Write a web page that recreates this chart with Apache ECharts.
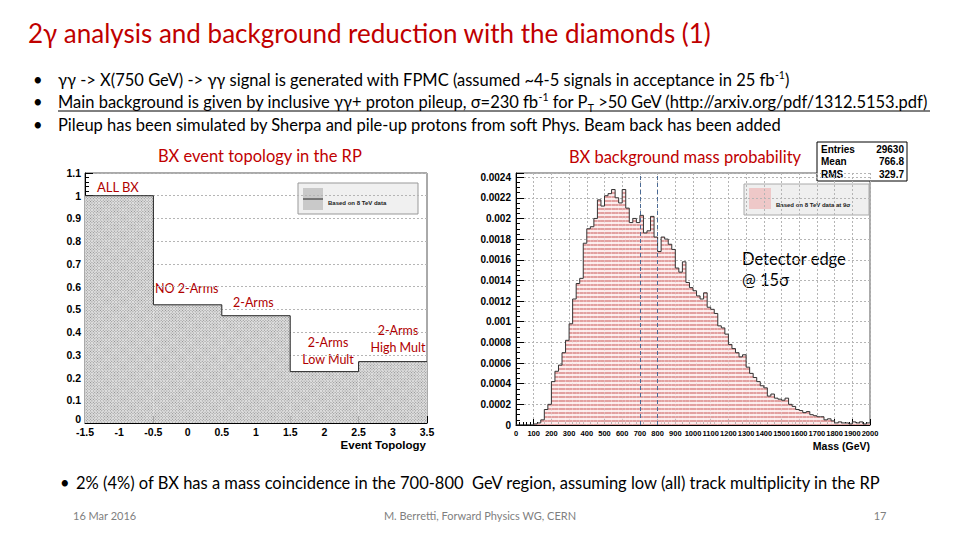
<!DOCTYPE html>
<html><head><meta charset="utf-8">
<script src="https://cdn.jsdelivr.net/npm/echarts@6/dist/echarts.min.js"></script>
<style>html,body{margin:0;padding:0;background:#fff}#c{width:960px;height:540px}</style>
</head><body><div id="c"></div>
<script>
// ---- data ----
const topoEdges = [-1.5, -0.5, 0.5, 1.5, 2.5, 3.5];
const topoNames = ['ALL BX', 'NO 2-Arms', '2-Arms', '2-Arms Low Mult', '2-Arms High Mult'];
const topoValues = [1.0, 0.52, 0.472, 0.226, 0.27];

const massMin = 0, massMax = 2000, massBinWidth = 20;
const massValues = [
  0, 0, 0, 0, 0, 0.00001, 0.00002, 0.00005, 0.00015, 0.0002,
  0.00042, 0.00052, 0.00058, 0.0007, 0.00082, 0.00098, 0.00122, 0.00137, 0.00142, 0.00176,
  0.0019, 0.00192, 0.002, 0.00218, 0.00212, 0.00222, 0.00224, 0.00228, 0.0022, 0.00215,
  0.00228, 0.0021, 0.00196, 0.002, 0.00196, 0.00203, 0.00186, 0.00188, 0.00202, 0.00182,
  0.00168, 0.00182, 0.0018, 0.00175, 0.0017, 0.00152, 0.00148, 0.00158, 0.00138, 0.00133,
  0.0013, 0.00125, 0.00122, 0.00128, 0.00114, 0.00112, 0.00108, 0.00096, 0.00094, 0.00088,
  0.00078, 0.00074, 0.0007, 0.00066, 0.00068, 0.00056, 0.0005, 0.00046, 0.00042, 0.00038,
  0.00036, 0.00028, 0.0003, 0.00026, 0.00025, 0.00024, 0.00026, 0.0002, 0.00018, 0.00015,
  0.00014, 0.00012, 0.00013, 0.0001, 0.00009, 0.00008, 0.00008, 0.00005, 0.00006, 0.00004,
  0.00002, 0.00003, 0.00002, 0.00002, 0.00001, 0.00003, 0.00002, 0.00003, 0.00001, 0.00002
];
const massWindow = [700, 800];
const statsLabels = ['Entries', 'Mean', 'RMS'];
const statsValues = ['29630', '766.8', '329.7'];

// ---- derived ----
const massBins = massValues.map((v, i) => String(massMin + i * massBinWidth));
const massStep = massValues.map((v, i) => [massMin + i * massBinWidth, v]).concat([[massMax, massValues[massValues.length - 1]]]);
const topoStep = topoEdges.map((e, i) => [e, topoValues[Math.min(i, topoValues.length - 1)]]);

const rootFont = "'Liberation Sans', Arial, sans-serif";
const slideFont = "Lato, 'Open Sans', sans-serif";
const red = '#c00000';
const bodyFont = '16.5px ' + slideFont;

function txt(x, y, text, font, fill, align, extra) {
  return Object.assign({
    type: 'text', x: x, y: y, silent: true,
    style: { text: text, font: font, fill: fill || '#000', align: align || 'left', verticalAlign: 'middle',
             textAlign: align || 'left', textVerticalAlign: 'middle' }
  }, extra || {});
}

const richStyles = {
  n: { font: bodyFont, lineHeight: 22, fill: '#000', color: '#000', verticalAlign: 'middle' },
  sup: { font: '10.5px ' + slideFont, lineHeight: 10, fill: '#000', color: '#000', verticalAlign: 'top' },
  sub: { font: '10.5px ' + slideFont, lineHeight: 10, fill: '#000', color: '#000', verticalAlign: 'bottom' }
};
function richTxt(x, y, text) {
  return { type: 'text', x: x, y: y, silent: true,
    style: { text: text, rich: richStyles, font: bodyFont, fill: '#000', verticalAlign: 'middle', textVerticalAlign: 'middle' } };
}

const graphics = [
  txt(28, 33, '2\u03b3 analysis and background reduction with the diamonds (1)', '26px ' + slideFont, red),
  txt(33, 80, '\u2022', bodyFont, '#000'),
  txt(33, 102, '\u2022', bodyFont, '#000'),
  txt(33, 125, '\u2022', bodyFont, '#000'),
  richTxt(58, 80, '{n|\u03b3\u03b3 -> X(750 GeV) -> \u03b3\u03b3 signal is generated with FPMC (assumed ~4-5 signals in acceptance in 25 fb}{sup|-1}{n|)}'),
  richTxt(58, 102, '{n|Main background is given by inclusive \u03b3\u03b3+ proton pileup, \u03c3=230 fb}{sup|-1}{n| for P}{sub|T}{n| >50 GeV (http://arxiv.org/pdf/1312.5153.pdf)}'),
  { type: 'line', silent: true, shape: { x1: 58, y1: 111, x2: 930, y2: 111 }, style: { stroke: '#000', lineWidth: 1 } },
  richTxt(58, 125, '{n|Pileup has been simulated by Sherpa and pile-up protons from soft Phys. Beam back has been added}'),
  txt(158, 156, 'BX event topology in the RP', bodyFont, red),
  txt(569, 157, 'BX background mass probability', bodyFont, red),
  // left legend
  { type: 'rect', silent: true, shape: { x: 298, y: 183, width: 120, height: 31 }, style: { fill: '#f0f0f0', stroke: '#999', lineWidth: 1 } },
  { type: 'rect', silent: true, shape: { x: 303, y: 188, width: 20, height: 22 }, style: { fill: '#c9c9c9' } },
  { type: 'line', silent: true, shape: { x1: 303, y1: 199, x2: 323, y2: 199 }, style: { stroke: '#222', lineWidth: 1 } },
  txt(328, 203, 'Based on 8 TeV data', 'bold 6px ' + rootFont, '#222'),
  // right legend
  { type: 'rect', silent: true, shape: { x: 744, y: 184, width: 125, height: 31 }, style: { fill: '#efefef', stroke: '#aaa', lineWidth: 1 } },
  { type: 'rect', silent: true, shape: { x: 749, y: 188, width: 22, height: 21 }, style: { fill: '#eec8c8' } },
  txt(776, 205, 'Based on 8 TeV data at 9\u03c3', 'bold 6px ' + rootFont, '#222'),
  // stats box
  { type: 'rect', silent: true, shape: { x: 817, y: 142, width: 90, height: 39 }, style: { fill: '#fff', stroke: '#000', lineWidth: 1 } },
  // annotations left
  txt(97, 187, 'ALL BX', '13px ' + slideFont, '#b00000'),
  txt(155, 288, 'NO 2-Arms', '12.5px ' + slideFont, '#b00000'),
  txt(233, 302, '2-Arms', '12.5px ' + slideFont, '#b00000'),
  txt(328, 342, '2-Arms', '12.5px ' + slideFont, '#b00000', 'center'),
  txt(328, 359, 'Low Mult', '12.5px ' + slideFont, '#b00000', 'center'),
  txt(398, 330, '2-Arms', '12.5px ' + slideFont, '#b00000', 'center'),
  txt(398, 347, 'High Mult', '12.5px ' + slideFont, '#b00000', 'center'),
  txt(742, 259, 'Detector edge', bodyFont, '#000'),
  txt(742, 280, '@ 15\u03c3', bodyFont, '#000'),
  txt(426, 445, 'Event Topology', 'bold 11.5px ' + rootFont, '#000', 'right'),
  txt(870, 446, 'Mass (GeV)', 'bold 10.5px ' + rootFont, '#000', 'right'),
  // bottom bullet and footer
  txt(60, 483, '\u2022', bodyFont, '#000'),
  txt(76, 483, '2% (4%) of BX has a mass coincidence in the 700-800  GeV region, assuming low (all) track multiplicity in the RP', bodyFont, '#000'),
  txt(73, 515, '16 Mar 2016', '11px ' + slideFont, '#7f7f7f'),
  txt(480, 515, 'M. Berretti, Forward Physics WG, CERN', '11px ' + slideFont, '#7f7f7f', 'center'),
  txt(880, 515, '17', '11px ' + slideFont, '#7f7f7f', 'center')
];
statsLabels.forEach((l, i) => {
  graphics.push(txt(821, 149 + i * 12.5, l, 'bold 10px ' + rootFont, '#000'));
  graphics.push(txt(904, 149 + i * 12.5, statsValues[i], 'bold 10px ' + rootFont, '#000', 'right'));
});

const axisLbl = { color: '#000', fontFamily: rootFont, fontWeight: 'bold', fontSize: 10.5 };
const dotted = { show: true, lineStyle: { color: '#b5b5b5', type: [2, 2], width: 1 } };

const option = {
  animation: false,
  backgroundColor: '#fff',
  grid: [
    { left: 85, right: 533, top: 173, bottom: 117, show: true, borderColor: '#555', borderWidth: 1, backgroundColor: 'transparent' },
    { left: 516, right: 90, top: 173, bottom: 115, show: true, borderColor: '#555', borderWidth: 1, backgroundColor: 'transparent' }
  ],
  xAxis: [
    { type: 'category', gridIndex: 0, position: 'top', data: topoNames, show: false, boundaryGap: true },
    { type: 'value', gridIndex: 0, position: 'bottom', min: -1.5, max: 3.5, interval: 0.5,
      axisLine: { show: true, onZero: false, lineStyle: { color: '#000' } },
      axisTick: { show: true, inside: true, length: 7, lineStyle: { color: '#000' } },
      minorTick: { show: true, splitNumber: 5, length: 4, lineStyle: { color: '#000' } },
      axisLabel: Object.assign({}, axisLbl, { margin: 3, formatter: v => String(+v.toFixed(1)) }),
      splitLine: { show: false } },
    { type: 'category', gridIndex: 1, position: 'top', data: massBins, show: false, boundaryGap: true },
    { type: 'value', gridIndex: 1, position: 'bottom', min: massMin, max: massMax, interval: 100,
      axisLine: { show: true, onZero: false, lineStyle: { color: '#000' } },
      axisTick: { show: true, inside: true, length: 6, lineStyle: { color: '#000' } },
      minorTick: { show: true, splitNumber: 5, length: 3, lineStyle: { color: '#000' } },
      axisLabel: Object.assign({}, axisLbl, { margin: 4, fontSize: 7.5, showMaxLabel: true, showMinLabel: true, formatter: v => String(v) }),
      splitLine: dotted }
  ],
  yAxis: [
    { type: 'value', gridIndex: 0, position: 'left', min: 0, max: 1.1, interval: 0.1,
      axisLine: { show: true, onZero: false, lineStyle: { color: '#000' } },
      axisTick: { show: true, inside: true, length: 8, lineStyle: { color: '#000' } },
      minorTick: { show: true, splitNumber: 5, length: 4, lineStyle: { color: '#000' } },
      axisLabel: Object.assign({}, axisLbl, { margin: 4,
        formatter: v => v === 0 ? '{z|0}' : String(+v.toFixed(1)),
        rich: { z: { fontFamily: rootFont, fontWeight: 'bold', fontSize: 10.5, color: '#000', padding: [0, 0, 8, 0] } } }),
      splitLine: dotted },
    { type: 'value', gridIndex: 1, position: 'left', min: 0, max: 0.00244, interval: 0.0002,
      axisLine: { show: true, onZero: false, lineStyle: { color: '#000' } },
      axisTick: { show: true, inside: true, length: 8, lineStyle: { color: '#000' } },
      minorTick: { show: true, splitNumber: 4, length: 4, lineStyle: { color: '#000' } },
      axisLabel: Object.assign({}, axisLbl, { margin: 5, fontSize: 10, showMaxLabel: false, formatter: v => String(+v.toFixed(4)) }),
      splitLine: dotted }
  ],
  series: [
    { type: 'bar', xAxisIndex: 0, yAxisIndex: 0, data: topoValues, barCategoryGap: '0%', silent: true,
      itemStyle: { color: '#e0e0e0',
        decal: { symbol: 'rect', symbolSize: 1, dashArrayX: [1, 1], dashArrayY: [1, 1], rotation: Math.PI / 4, color: '#8e8e8e' } } },
    { type: 'line', xAxisIndex: 1, yAxisIndex: 0, data: topoStep, step: 'end', symbol: 'none', silent: true,
      lineStyle: { color: '#222', width: 1 } },
    { type: 'bar', xAxisIndex: 2, yAxisIndex: 1, data: massValues, barCategoryGap: '0%', silent: true,
      itemStyle: { color: '#fcecec',
        decal: { symbol: 'rect', symbolSize: 1, dashArrayX: [1, 0], dashArrayY: [2, 1.5], rotation: 0, color: '#e2a0a0' } } },
    { type: 'line', xAxisIndex: 3, yAxisIndex: 1, data: massStep, step: 'end', symbol: 'none', silent: true,
      lineStyle: { color: '#333', width: 1 },
      markLine: { silent: true, symbol: 'none', label: { show: false },
        lineStyle: { color: '#4a6a95', type: [4, 3], width: 1 },
        data: massWindow.map(m => ({ xAxis: m })) } }
  ],
  graphic: graphics
};

const chart = echarts.init(document.getElementById('c'), null, { renderer: 'svg' });
chart.setOption(option);
</script>
</body></html>
